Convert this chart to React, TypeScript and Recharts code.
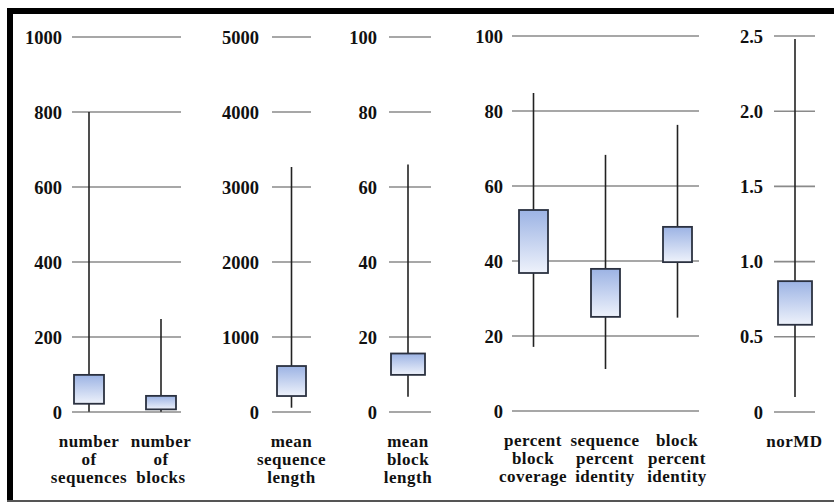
import React from 'react';
import { ComposedChart, Bar, XAxis, YAxis, CartesianGrid } from 'recharts';

const FONT = "Liberation Serif, Times New Roman, DejaVu Serif, serif";

// box stats: min, q1, q3, max
const countStats = [
  { name: 'number of sequences', min: 1, q1: 22, q3: 99, max: 800 },
  { name: 'number of blocks', min: 1, q1: 7, q3: 43, max: 248 },
];
const seqLenStats = [{ name: 'mean sequence length', min: 57, q1: 213, q3: 613, max: 3267 }];
const blockLenStats = [{ name: 'mean block length', min: 4.1, q1: 9.9, q3: 15.6, max: 66 }];
const percentStats = [
  { name: 'percent block coverage', min: 17.1, q1: 36.8, q3: 53.6, max: 84.8 },
  { name: 'sequence percent identity', min: 11.2, q1: 25.1, q3: 37.9, max: 68.3 },
  { name: 'block percent identity', min: 24.9, q1: 39.7, q3: 49.1, max: 76.3 },
];
const normdStats = [{ name: 'norMD', min: 0.1, q1: 0.58, q3: 0.87, max: 2.48 }];

const countTicks = [0, 200, 400, 600, 800, 1000];
const seqLenTicks = [0, 1000, 2000, 3000, 4000, 5000];
const blockLenTicks = [0, 20, 40, 60, 80, 100];
const percentTicks = [0, 20, 40, 60, 80, 100];
const normdTicks = [0, 0.5, 1.0, 1.5, 2.0, 2.5];

const TOP_M = 12;
const RIGHT_M = 30;
const X_H = 85;

const tickStyle = { fontFamily: FONT, fontWeight: 'bold' as const, fontSize: 18.5, fill: '#111' };
const labelStyle = { fontFamily: FONT, fontWeight: 'bold' as const, fontSize: 17, letterSpacing: 0.5, fill: '#111' };

const BoxShape = (props: any) => {
  const { x, y, width, height, payload, gradId } = props;
  if (height == null || !payload) return null;
  const { min, max, q1, q3 } = payload;
  const px = (v: number) => y + (height * (max - v)) / (max - min);
  const cx = x + width / 2;
  const top = px(q3);
  const bot = px(q1);
  return (
    <g>
      <line x1={cx} x2={cx} y1={y} y2={y + height} stroke="#222" strokeWidth={1.6} />
      <rect x={x} y={top} width={width} height={bot - top} fill={`url(#${gradId})`} stroke="#2b3140" strokeWidth={1.8} />
    </g>
  );
};

const LabelTick = ({ x, y, payload }: any) => {
  const lines = String(payload.value).split(' ');
  return (
    <text x={x} y={y} textAnchor="middle" style={labelStyle}>
      {lines.map((l, i) => (
        <tspan key={i} x={x} dy={i === 0 ? 35 : 18}>{l}</tspan>
      ))}
    </text>
  );
};

function Panel({ id, data, ticks, left, top, plotW, plotH, yW, tickMargin, padding, barSize, fmt }: any) {
  return (
    <div style={{ position: 'absolute', left: left - yW, top: top - TOP_M }}>
      <ComposedChart
        width={yW + plotW + RIGHT_M}
        height={TOP_M + plotH + X_H}
        data={data}
        margin={{ top: TOP_M, right: RIGHT_M, bottom: 0, left: 0 }}
      >
        <defs>
          <linearGradient id={id} x1="0" y1="0" x2="0" y2="1">
            <stop offset="0%" stopColor="#9cb3e4" />
            <stop offset="100%" stopColor="#eef2fb" />
          </linearGradient>
        </defs>
        <CartesianGrid vertical={false} stroke="#8a8a8a" strokeWidth={1.6} />
        <XAxis
          dataKey="name"
          type="category"
          interval={0}
          height={X_H}
          axisLine={false}
          tickLine={false}
          tickSize={0}
          tickMargin={0}
          padding={padding}
          tick={<LabelTick />}
        />
        <YAxis
          type="number"
          width={yW}
          domain={[ticks[0], ticks[ticks.length - 1]]}
          ticks={ticks}
          interval={0}
          axisLine={false}
          tickLine={false}
          tickSize={0}
          tickMargin={tickMargin}
          tickFormatter={fmt}
          tick={{ ...tickStyle, style: tickStyle }}
        />
        <Bar
          dataKey={(d: any) => [d.min, d.max]}
          barSize={barSize}
          isAnimationActive={false}
          shape={<BoxShape gradId={id} />}
        />
      </ComposedChart>
    </div>
  );
}

export default function App() {
  return (
    <div style={{ position: 'absolute', left: 0, top: 0, width: 834, height: 503, background: '#fff', overflow: 'hidden' }}>
      <div style={{ position: 'absolute', left: 7, top: 8, width: 827, height: 6, background: '#000' }} />
      <div style={{ position: 'absolute', left: 7, top: 8, width: 6, height: 494, background: '#000' }} />
      <div style={{ position: 'absolute', left: 7, top: 500, width: 827, height: 2, background: '#555' }} />

      <Panel id="g1" data={countStats} ticks={countTicks} left={72} top={37} plotW={109} plotH={375}
        yW={60} tickMargin={10} padding={{ left: -19, right: -16 }} barSize={30} />
      <Panel id="g2" data={seqLenStats} ticks={seqLenTicks} left={272} top={37} plotW={39} plotH={375}
        yW={60} tickMargin={13} padding={{ left: 0, right: 0 }} barSize={29} />
      <Panel id="g3" data={blockLenStats} ticks={blockLenTicks} left={389} top={37} plotW={42} plotH={375}
        yW={50} tickMargin={12} padding={{ left: -2, right: 2 }} barSize={34} />
      <Panel id="g4" data={percentStats} ticks={percentTicks} left={512} top={36} plotW={187} plotH={375}
        yW={50} tickMargin={9} padding={{ left: -15, right: -14 }} barSize={29} />
      <Panel id="g5" data={normdStats} ticks={normdTicks} left={774} top={36} plotW={41} plotH={376}
        yW={50} tickMargin={11} padding={{ left: 0, right: 0 }} barSize={34}
        fmt={(v: number) => (v === 0 ? '0' : v.toFixed(1))} />
    </div>
  );
}
